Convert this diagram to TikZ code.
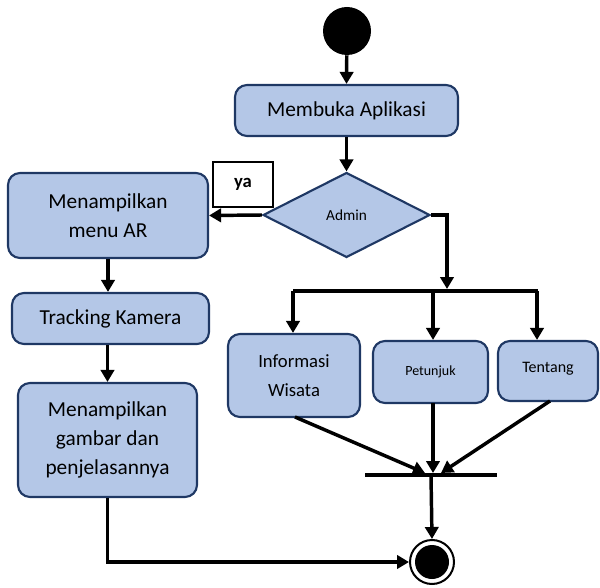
\documentclass[tikz,border=0pt]{standalone}
\usepackage{fontspec}
\setmainfont{Carlito}
\usetikzlibrary{shapes.geometric,arrows.meta}
\definecolor{actfill}{HTML}{B4C7E7}
\definecolor{actdraw}{HTML}{1F3864}
\tikzset{
  act/.style={draw=actdraw, fill=actfill, line width=1.6pt, rounded corners=9pt, align=center, inner sep=2pt, font=\fontsize{16}{22}\selectfont},
  smallact/.style={act, font=\fontsize{11}{14}\selectfont},
  dec/.style={diamond, draw=actdraw, fill=actfill, line width=1.6pt, inner sep=0pt, font=\fontsize{11.5}{14}\selectfont},
  arr/.style={line width=2.6pt, -{Triangle[width=10pt,length=9pt]}},
  ln/.style={line width=2.6pt},
  barst/.style={fill=black, inner sep=0pt, minimum height=3pt},
}
\begin{document}
\begin{tikzpicture}[x=0.75pt,y=-0.75pt]
\useasboundingbox (0,0) rectangle (600,588);
% start
\node[circle, fill=black, minimum size=36pt, inner sep=0pt] (start) at (347,31) {};
\node[act, minimum width=167.25pt, minimum height=38.25pt] (membuka) at (346.5,110.5) {Membuka Aplikasi};
\node[dec, minimum width=125.25pt, minimum height=63.75pt] (admin) at (346.5,215) {Admin};
\node[draw=black, line width=0.8pt, fill=white, minimum width=45pt, minimum height=33.75pt, inner sep=0pt, font=\fontsize{14}{16}\selectfont\bfseries] (ya) at (243,184.5) {ya};
\node[act, minimum width=150pt, minimum height=63.75pt] (menuar) at (108,215.5) {Menampilkan\\menu AR};
\node[act, minimum width=147.75pt, minimum height=38.25pt] (tracking) at (110.5,318.5) {Tracking Kamera};
\node[act, minimum width=134.25pt, minimum height=85.5pt] (gambar) at (107.5,440) {Menampilkan\\gambar dan\\penjelasannya};
\node[act, minimum width=99pt, minimum height=62.25pt, font=\fontsize{14}{22}\selectfont] (info) at (294,375.5) {Informasi\\Wisata};
\node[smallact, minimum width=86.25pt, minimum height=46.5pt, font=\fontsize{10.5}{14}\selectfont] (petunjuk) at (430.5,372) {Petunjuk};
\node[smallact, minimum width=75pt, minimum height=45pt, font=\fontsize{12}{14}\selectfont, anchor=center] (tentang) at (548,371) {\raisebox{5pt}{Tentang}};
% bars
\node[barst, minimum width=183.75pt] (fork) at (415.5,291) {};
\node[barst, minimum width=99pt] (join) at (431,475) {};
% end
\node[circle, draw=black, line width=1.5pt, fill=white, minimum size=33pt, inner sep=0pt] (end) at (432,562) {};
\node[circle, fill=black, minimum size=25.5pt, inner sep=0pt] (endin) at (432,562) {};
% connectors
\draw[arr] (start) -- (membuka.north);
\draw[arr] (membuka) -- (admin.north);
\draw[arr] (admin.west) -- (menuar.east);
\coordinate (fin) at (447,289);
\draw[arr] (admin.east) -| (fin);
\coordinate (b1) at (293,291);
\coordinate (b2) at (433,291);
\coordinate (b3) at (537,291);
\draw[arr] (b1) -- (b1 |- info.north);
\draw[arr] (b2) -- (b2 |- petunjuk.north);
\draw[arr] (b3) -- (b3 |- tentang.north);
\coordinate (i0) at (295,417);
\coordinate (p0) at (433,403);
\coordinate (t0) at (550,401);
\coordinate (j1) at (425,473);
\coordinate (j2) at (433,473);
\coordinate (j3) at (441,473);
\draw[arr] (i0) -- (j1);
\draw[arr] (p0) -- (j2);
\draw[arr] (t0) -- (j3);
\draw[arr] (join.center) -- (end.north);
\draw[arr] (menuar.south) -- (tracking.north -| menuar.south);
\draw[arr] (tracking.south -| gambar.south) -- (gambar.north);
\draw[arr] (gambar.south) |- (end.west);
\end{tikzpicture}
\end{document}
